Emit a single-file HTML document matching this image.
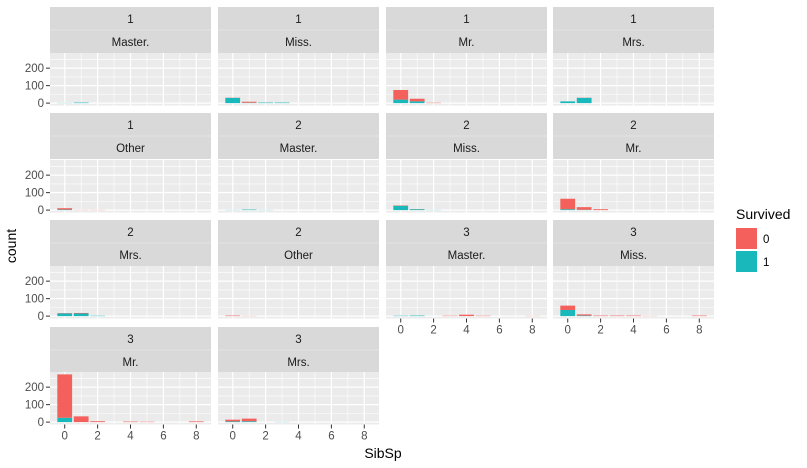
<!DOCTYPE html>
<html><head><meta charset="utf-8"><style>
body{margin:0;background:#fff;}
svg{display:block;font-family:"Liberation Sans",sans-serif;}
</style></head><body>
<svg id="c" width="807" height="468"></svg>
<script>
// facets: class, title
const facetClass=["1","1","1","1","1","2","2","2","2","2","3","3","3","3"];
const facetTitle=["Master.","Miss.","Mr.","Mrs.","Other","Master.","Miss.","Mr.","Mrs.","Other","Master.","Miss.","Mr.","Mrs."];
const sibsp=[0,1,2,3,4,5,8];
// died (Survived=0) counts per facet per sibsp value
const died=[
[0,0,0,0,0,0,0],[1,6,0,0,0,0,0],[55,15,2,0,0,0,0],[0,1,0,0,0,0,0],[8,1,1,0,0,0,0],
[0,0,0,0,0,0,0],[2,1,0,0,0,0,0],[60,15,5,0,0,0,0],[2,3,0,0,0,0,0],[3,1,0,0,0,0,0],
[0,0,0,2,8,2,1],[25,7,3,3,3,1,3],[248,33,5,0,3,2,4],[10,15,0,0,0,0,0]];
// survived (Survived=1) counts
const survived=[
[1,3,0,0,0,0,0],[30,2,3,3,0,0,0],[20,10,0,0,0,0,0],[10,30,0,0,0,0,0],[3,0,0,0,0,0,0],
[1,3,1,0,0,0,0],[25,5,1,0,0,0,0],[5,2,0,0,0,0,0],[15,15,2,0,0,0,0],[0,0,0,0,0,0,0],
[2,3,0,0,0,0,0],[35,3,0,0,0,0,0],[25,0,0,0,0,0,0],[4,5,0,1,0,0,0]];
const xTicks=[0,2,4,6,8];
const yTicks=[0,100,200];

const NS="http://www.w3.org/2000/svg";
const svg=document.getElementById("c");
function mk(t,a,p){const e=document.createElementNS(NS,t);for(const k in a)e.setAttribute(k,a[k]);(p||svg).appendChild(e);return e;}
const colL=[50,218,386,553], PW=161;
const stripT=[7,113,220,327], panT=[53,160,266,372], PH=52.5;
const XMIN=-0.895,XMAX=8.895,YMIN=-13.65,YMAX=286.65;
for(let i=0;i<facetTitle.length;i++){
  const c=i%4,r=Math.floor(i/4);
  const L=colL[c],T=panT[r];
  const xs=v=>L+(v-XMIN)/(XMAX-XMIN)*PW;
  const ys=v=>T+PH-(v-YMIN)/(YMAX-YMIN)*PH;
  const g=mk("g",{});
  
  
  mk("rect",{x:L,y:stripT[r],width:PW,height:46,fill:"#D9D9D9"},g);
  mk("line",{x1:L,x2:L+PW,y1:stripT[r]+23,y2:stripT[r]+23,stroke:"#E4E4E4","stroke-width":1},g);
  const t1=mk("text",{x:L+PW/2,y:stripT[r]+16,"text-anchor":"middle","font-size":"11.5",fill:"#1A1A1A"},g);t1.textContent=facetClass[i];
  
  
  const t2=mk("text",{x:L+PW/2,y:stripT[r]+39,"text-anchor":"middle","font-size":"11.5",fill:"#1A1A1A"},g);t2.textContent=facetTitle[i];
  
  
  mk("rect",{x:L,y:T,width:PW,height:PH,fill:"#EBEBEB"},g);
  for(let v=50;v<=250;v+=100) mk("line",{x1:L,x2:L+PW,y1:ys(v),y2:ys(v),stroke:"#fff","stroke-width":0.6},g);
  for(let v=1;v<=7;v+=2) mk("line",{x1:xs(v),x2:xs(v),y1:T,y2:T+PH,stroke:"#fff","stroke-width":0.6},g);
  yTicks.forEach(v=>mk("line",{x1:L,x2:L+PW,y1:ys(v),y2:ys(v),stroke:"#fff","stroke-width":1.2},g));
  xTicks.forEach(v=>mk("line",{x1:xs(v),x2:xs(v),y1:T,y2:T+PH,stroke:"#fff","stroke-width":1.2},g));
  sibsp.forEach((s,j)=>{
    const d=died[i][j],sv=survived[i][j];
    if(sv>0){const b=mk("rect",{x:xs(s-0.45),y:ys(sv),width:xs(0.45)-xs(-0.45),height:ys(0)-ys(sv),fill:"#19B8BB"},g);
      }
    if(d>0){const b=mk("rect",{x:xs(s-0.45),y:ys(sv+d),width:xs(0.45)-xs(-0.45),height:ys(sv)-ys(sv+d),fill:"#F4605C"},g);
      }
  });
  if(c===0){yTicks.forEach(v=>{
    mk("line",{x1:L-4,x2:L,y1:ys(v),y2:ys(v),stroke:"#333","stroke-width":1},g);
    const t=mk("text",{x:L-6,y:ys(v)+4,"text-anchor":"end","font-size":"11.5",fill:"#4D4D4D"},g);t.textContent=v;
    });}
  if(r===3||(r===2&&c>=2)){xTicks.forEach(v=>{
    mk("line",{x1:xs(v),x2:xs(v),y1:T+PH,y2:T+PH+4,stroke:"#333","stroke-width":1},g);
    const t=mk("text",{x:xs(v),y:T+PH+15,"text-anchor":"middle","font-size":"11.5",fill:"#4D4D4D"},g);t.textContent=v;
    });}
}
const yt=mk("text",{x:0,y:0,transform:"translate(16,246) rotate(-90)","text-anchor":"middle","font-size":"14",fill:"#000"});yt.textContent="count";

const xt=mk("text",{x:383,y:458,"text-anchor":"middle","font-size":"14",fill:"#000"});xt.textContent="SibSp";

const lg=mk("g",{});

const lt=mk("text",{x:736,y:219,"font-size":"14",fill:"#000"},lg);lt.textContent="Survived";
mk("rect",{x:736,y:228,width:21,height:21,fill:"#F4605C"},lg);
mk("rect",{x:736,y:251,width:21,height:21,fill:"#19B8BB"},lg);
const l0=mk("text",{x:763,y:243,"font-size":"11.5",fill:"#000"},lg);l0.textContent="0";

const l1=mk("text",{x:763,y:266,"font-size":"11.5",fill:"#000"},lg);l1.textContent="1";

</script>
</body></html>
